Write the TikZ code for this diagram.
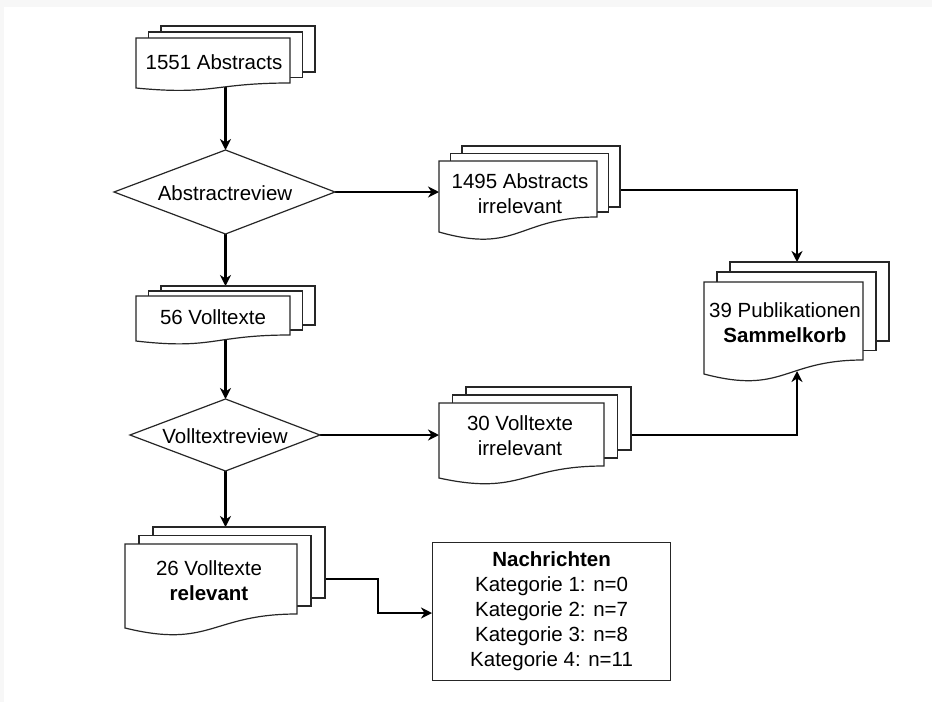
\documentclass[tikz,border=0pt]{standalone}
\usepackage{fontspec}
\setmainfont{Liberation Sans}
\usetikzlibrary{arrows.meta,backgrounds}
\tikzset{
  docline/.style={draw=black!85, fill=white, line width=1.2pt},
  conn/.style={line width=2.7pt, -{Stealth[length=11pt,width=11pt,inset=3.5pt]}},
  lbl/.style={align=center, inner sep=0pt, font=\fontsize{20.5}{25}\selectfont},
}
% #1 name, #2 x0, #3 y0, #4 w, #5 left height, #6 rise of right bottom, #7 dx, #8 dy, #9 back bottom step
\newcommand\docstack[9]{%
  \draw[docline] (#2+2*#7, #3-2*#8) rectangle (#2+2*#7+#4, #3+#5-#6-2*#9);
  \draw[docline] (#2+#7, #3-#8) rectangle (#2+#7+#4, #3+#5-#6-#9);
  \draw[docline] (#2,#3) -- (#2+#4,#3) -- (#2+#4,#3+#5-#6)
     .. controls (#2+0.5*#4,#3+#5-#6) and (#2+0.5*#4,#3+#5+1.5*#6) .. (#2,#3+#5) -- cycle;
  \coordinate (#1-top) at (#2+2*#7, #3-2*#8);
  \coordinate (#1-left) at (#2,#3);
  \coordinate (#1-in) at (#2+0.5*#4, #3+0.5*#5);
}
\begin{document}
\begin{tikzpicture}[x=1pt, y=-1pt]
\useasboundingbox (0,0) rectangle (932,702);

% document stacks
\docstack{A}{136}{38}{154}{50}{5}{12.5}{6}{5.5}
\docstack{B}{439}{161}{158}{71}{15}{11.5}{7.5}{5}
\docstack{C}{704}{282}{159}{92}{14}{13}{10}{9.5}
\docstack{D}{136}{296}{154}{45}{6}{12.5}{5}{5}
\docstack{E}{439}{403}{165}{75}{12}{13.5}{8}{8}
\docstack{F}{125}{544}{172}{84}{14}{14}{8.5}{8}

% diamonds
\coordinate (d1-n) at (225.5,150);
\coordinate (d1-s) at (225.5,234);
\coordinate (d1-e) at (335,192);
\coordinate (d1-w) at (114,192);
\draw[docline] (d1-n) -- (d1-e) -- (d1-s) -- (d1-w) -- cycle;
\coordinate (d2-n) at (225.5,399);
\coordinate (d2-s) at (225.5,471);
\coordinate (d2-e) at (320,435);
\coordinate (d2-w) at (130,435);
\draw[docline] (d2-n) -- (d2-e) -- (d2-s) -- (d2-w) -- cycle;

% labels
\node[lbl] (tA) at (214,62) {1551 Abstracts};
\node[lbl] (tB) at (520,193.5) {1495 Abstracts\\irrelevant};
\node[lbl] (tC) at (785,322.5) {39 Publikationen\\\textbf{Sammelkorb}};
\node[lbl] (tD) at (213,317) {56 Volltexte};
\node[lbl] (tE) at (520,436) {30 Volltexte\\irrelevant};
\node[lbl] (tF) at (209,580.5) {26 Volltexte\\\textbf{relevant}};
\node[lbl] (t1) at (225,193) {Abstractreview};
\node[lbl] (t2) at (225,436) {Volltextreview};

% result box
\node[docline, lbl, anchor=north west, minimum width=238pt, minimum height=138pt] (G) at (432,542)
  {\textbf{Nachrichten}\\Kategorie 1: n=0\\Kategorie 2: n=7\\Kategorie 3: n=8\\Kategorie 4: n=11};

% bend points
\coordinate (bc1) at (797,190);
\coordinate (ec1) at (797,435);
\coordinate (cw) at (797,371);
\coordinate (fg1) at (378,579);
\coordinate (fg2) at (378,613);

\begin{pgfonlayer}{background}
  \fill[black!3] (0,0) rectangle (932,702);
  \fill[white] (4,7) rectangle (932,702);
  \draw[conn] (A-in -| d1-n) -- (d1-n);
  \draw[conn] (d1-e) -- (d1-e -| B-left);
  \draw[conn] (d1-s) -- (d1-s |- D-top);
  \draw[conn] (D-in -| d2-n) -- (d2-n);
  \draw[conn] (d2-e) -- (d2-e -| E-left);
  \draw[conn] (d2-s) -- (d2-s |- F-top);
  \draw[conn] (B-in |- bc1) -- (bc1) -- (bc1 |- C-top);
  \draw[conn] (E-in |- ec1) -- (ec1) -- (cw);
  \draw[conn] (F-in |- fg1) -- (fg1) -- (fg2) -- (fg2 -| G.west);
\end{pgfonlayer}
\end{tikzpicture}
\end{document}
